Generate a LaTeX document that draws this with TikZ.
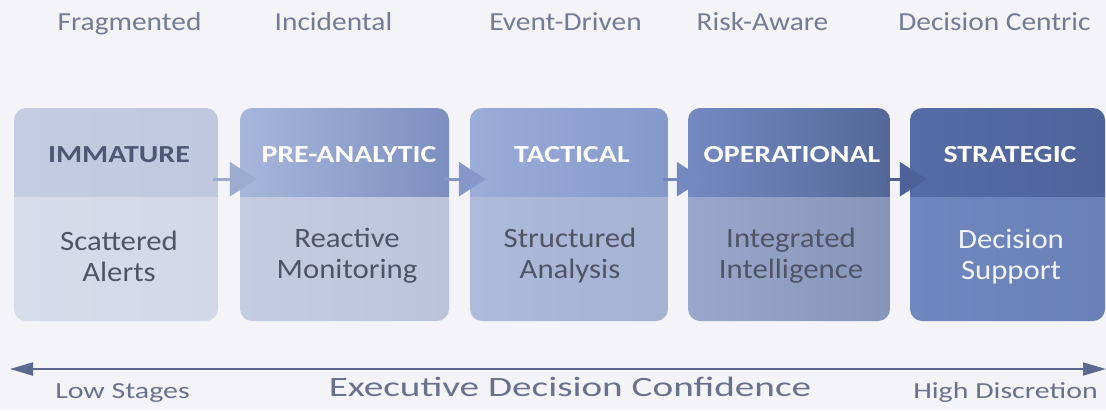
\documentclass[tikz,border=0pt]{standalone}
\usepackage{fontspec}
\setmainfont{Carlito}
\usetikzlibrary{arrows.meta}

% palette
\definecolor{paper}{HTML}{F4F3F7}
\definecolor{toptext}{HTML}{737B95}
\definecolor{lowtext}{HTML}{69718C}
\definecolor{bodytext}{HTML}{4F5467}
\definecolor{darkcap}{HTML}{4D5874}
\definecolor{axis}{HTML}{5B6A8E}
\definecolor{hAl}{HTML}{C4CCE1}\definecolor{hAr}{HTML}{BFC8DE}
\definecolor{bAl}{HTML}{D6DCEA}\definecolor{bAr}{HTML}{D2D8E8}
\definecolor{hBl}{HTML}{A7B6DB}\definecolor{hBr}{HTML}{7B8FC0}
\definecolor{bBl}{HTML}{C5CCE1}\definecolor{bBr}{HTML}{BCC4DB}
\definecolor{hCl}{HTML}{9AACD8}\definecolor{hCr}{HTML}{8499CB}
\definecolor{bCl}{HTML}{AEBAD9}\definecolor{bCr}{HTML}{A6B2D2}
\definecolor{hDl}{HTML}{7489C0}\definecolor{hDr}{HTML}{536899}
\definecolor{bDl}{HTML}{9AA7CA}\definecolor{bDr}{HTML}{8795BA}
\definecolor{hEl}{HTML}{566CA6}\definecolor{hEr}{HTML}{4E6399}
\definecolor{bEl}{HTML}{7088BF}\definecolor{bEr}{HTML}{6A80B6}
\definecolor{arA}{HTML}{9CABD0}
\definecolor{arB}{HTML}{8497C8}
\definecolor{arC}{HTML}{7388BF}
\definecolor{arD}{HTML}{4D6298}

\tikzset{
  toplabel/.style={anchor=base, text=toptext, inner sep=0pt,
    font={\fontsize{26}{28}\selectfont\addfontfeature{FakeStretch=1.13}}},
  lowlabel/.style={anchor=base, text=lowtext, inner sep=0pt,
    font={\fontsize{23}{26}\selectfont\addfontfeature{FakeStretch=1.3}}},
  axislabel/.style={anchor=base, text=lowtext, inner sep=0pt,
    font={\fontsize{28}{30}\selectfont\addfontfeature{FakeStretch=1.4}}},
  header/.style={inner sep=0pt, minimum height=84pt, text=white,
    font={\fontsize{24.5}{27}\selectfont\bfseries\addfontfeature{FakeStretch=1.22}}},
  bodytxt/.style={inner sep=0pt, align=center, text=bodytext,
    font={\fontsize{28}{31}\selectfont\addfontfeature{FakeStretch=1.1}}},
  flow/.style={line width=3pt, draw=#1,
    -{Triangle[length=27pt,width=34pt,fill=#1]}},
  axisline/.style={line width=2pt, draw=axis,
    {Triangle[length=23pt,width=13pt]}-{Triangle[length=23pt,width=13pt]}},
}

% one stage card: name, left, right, header colours, body colours
\newcommand\stagecard[7]{%
  \begin{scope}
    \clip[rounded corners=12pt] (#2,108) rectangle (#3,321);
    \shade[left color=#4, right color=#5] (#2,106) rectangle (#3,197);
    \shade[left color=#6, right color=#7] (#2,197) rectangle (#3,323);
  \end{scope}
  \path ({(#2+#3)/2},155) node[inner sep=0pt, minimum width={#3-#2},
    minimum height=84pt] (#1) {};
}

\begin{document}
\begin{tikzpicture}[x=1pt,y=-1pt]
  \fill[paper] (0,0) rectangle (1106,410);
  \useasboundingbox (0,0) rectangle (1106,410);

  % maturity descriptors
  \node[toplabel] (t1) at (129.5,30) {Fragmented};
  \node[toplabel] (t2) at (333.5,30) {Incidental};
  \node[toplabel] (t3) at (565.5,30) {Event-Driven};
  \node[toplabel] (t4) at (762.5,30) {Risk-Aware};
  \node[toplabel] (t5) at (994.5,30) {Decision Centric};

  % stage cards
  \stagecard{s1}{14}{218}{hAl}{hAr}{bAl}{bAr}
  \stagecard{s2}{240}{449}{hBl}{hBr}{bBl}{bBr}
  \stagecard{s3}{470}{668}{hCl}{hCr}{bCl}{bCr}
  \stagecard{s4}{688}{890}{hDl}{hDr}{bDl}{bDr}
  \stagecard{s5}{910}{1105}{hEl}{hEr}{bEl}{bEr}

  % stage titles
  \node[header, text=darkcap] (n1) at (119,155) {IMMATURE};
  \node[header] (n2) at (349,155) {PRE-ANALYTIC};
  \node[header] (n3) at (572,155) {TACTICAL};
  \node[header] (n4) at (792,155) {OPERATIONAL};
  \node[header] (n5) at (1010,155) {STRATEGIC};

  % stage descriptions
  \node[bodytxt] (d1) at (119,256) {Scattered\\Alerts};
  \node[bodytxt] (d2) at (347,256) {Reactive\\Monitoring};
  \node[bodytxt] (d3) at (570,256) {Structured\\Analysis};
  \node[bodytxt] (d4) at (791,256) {Integrated\\Intelligence};
  \node[bodytxt, text=white!92!hEl] (d5) at (1011,257) {Decision\\Support};

  % progression arrows
  \draw[flow=arA] ([xshift=-5pt,yshift=18pt]s1.south east) -- ([xshift=17pt,yshift=18pt]s2.south west);
  \draw[flow=arB] ([xshift=-5pt,yshift=18pt]s2.south east) -- ([xshift=16pt,yshift=18pt]s3.south west);
  \draw[flow=arC] ([xshift=-5pt,yshift=18pt]s3.south east) -- ([xshift=16pt,yshift=18pt]s4.south west);
  \draw[flow=arD] ([xshift=-3pt,yshift=18pt]s4.south east) -- ([xshift=17pt,yshift=18pt]s5.south west);

  % confidence axis
  \coordinate (lo) at (10,369);
  \coordinate (hi) at (1106,369);
  \draw[axisline] (lo) -- (hi);
  \node[lowlabel] (l1) at (122.5,398) {Low Stages};
  \node[axislabel] (l2) at (570,396) {Executive Decision Confidence};
  \node[lowlabel] (l3) at (1005.5,398) {High Discretion};
\end{tikzpicture}
\end{document}
